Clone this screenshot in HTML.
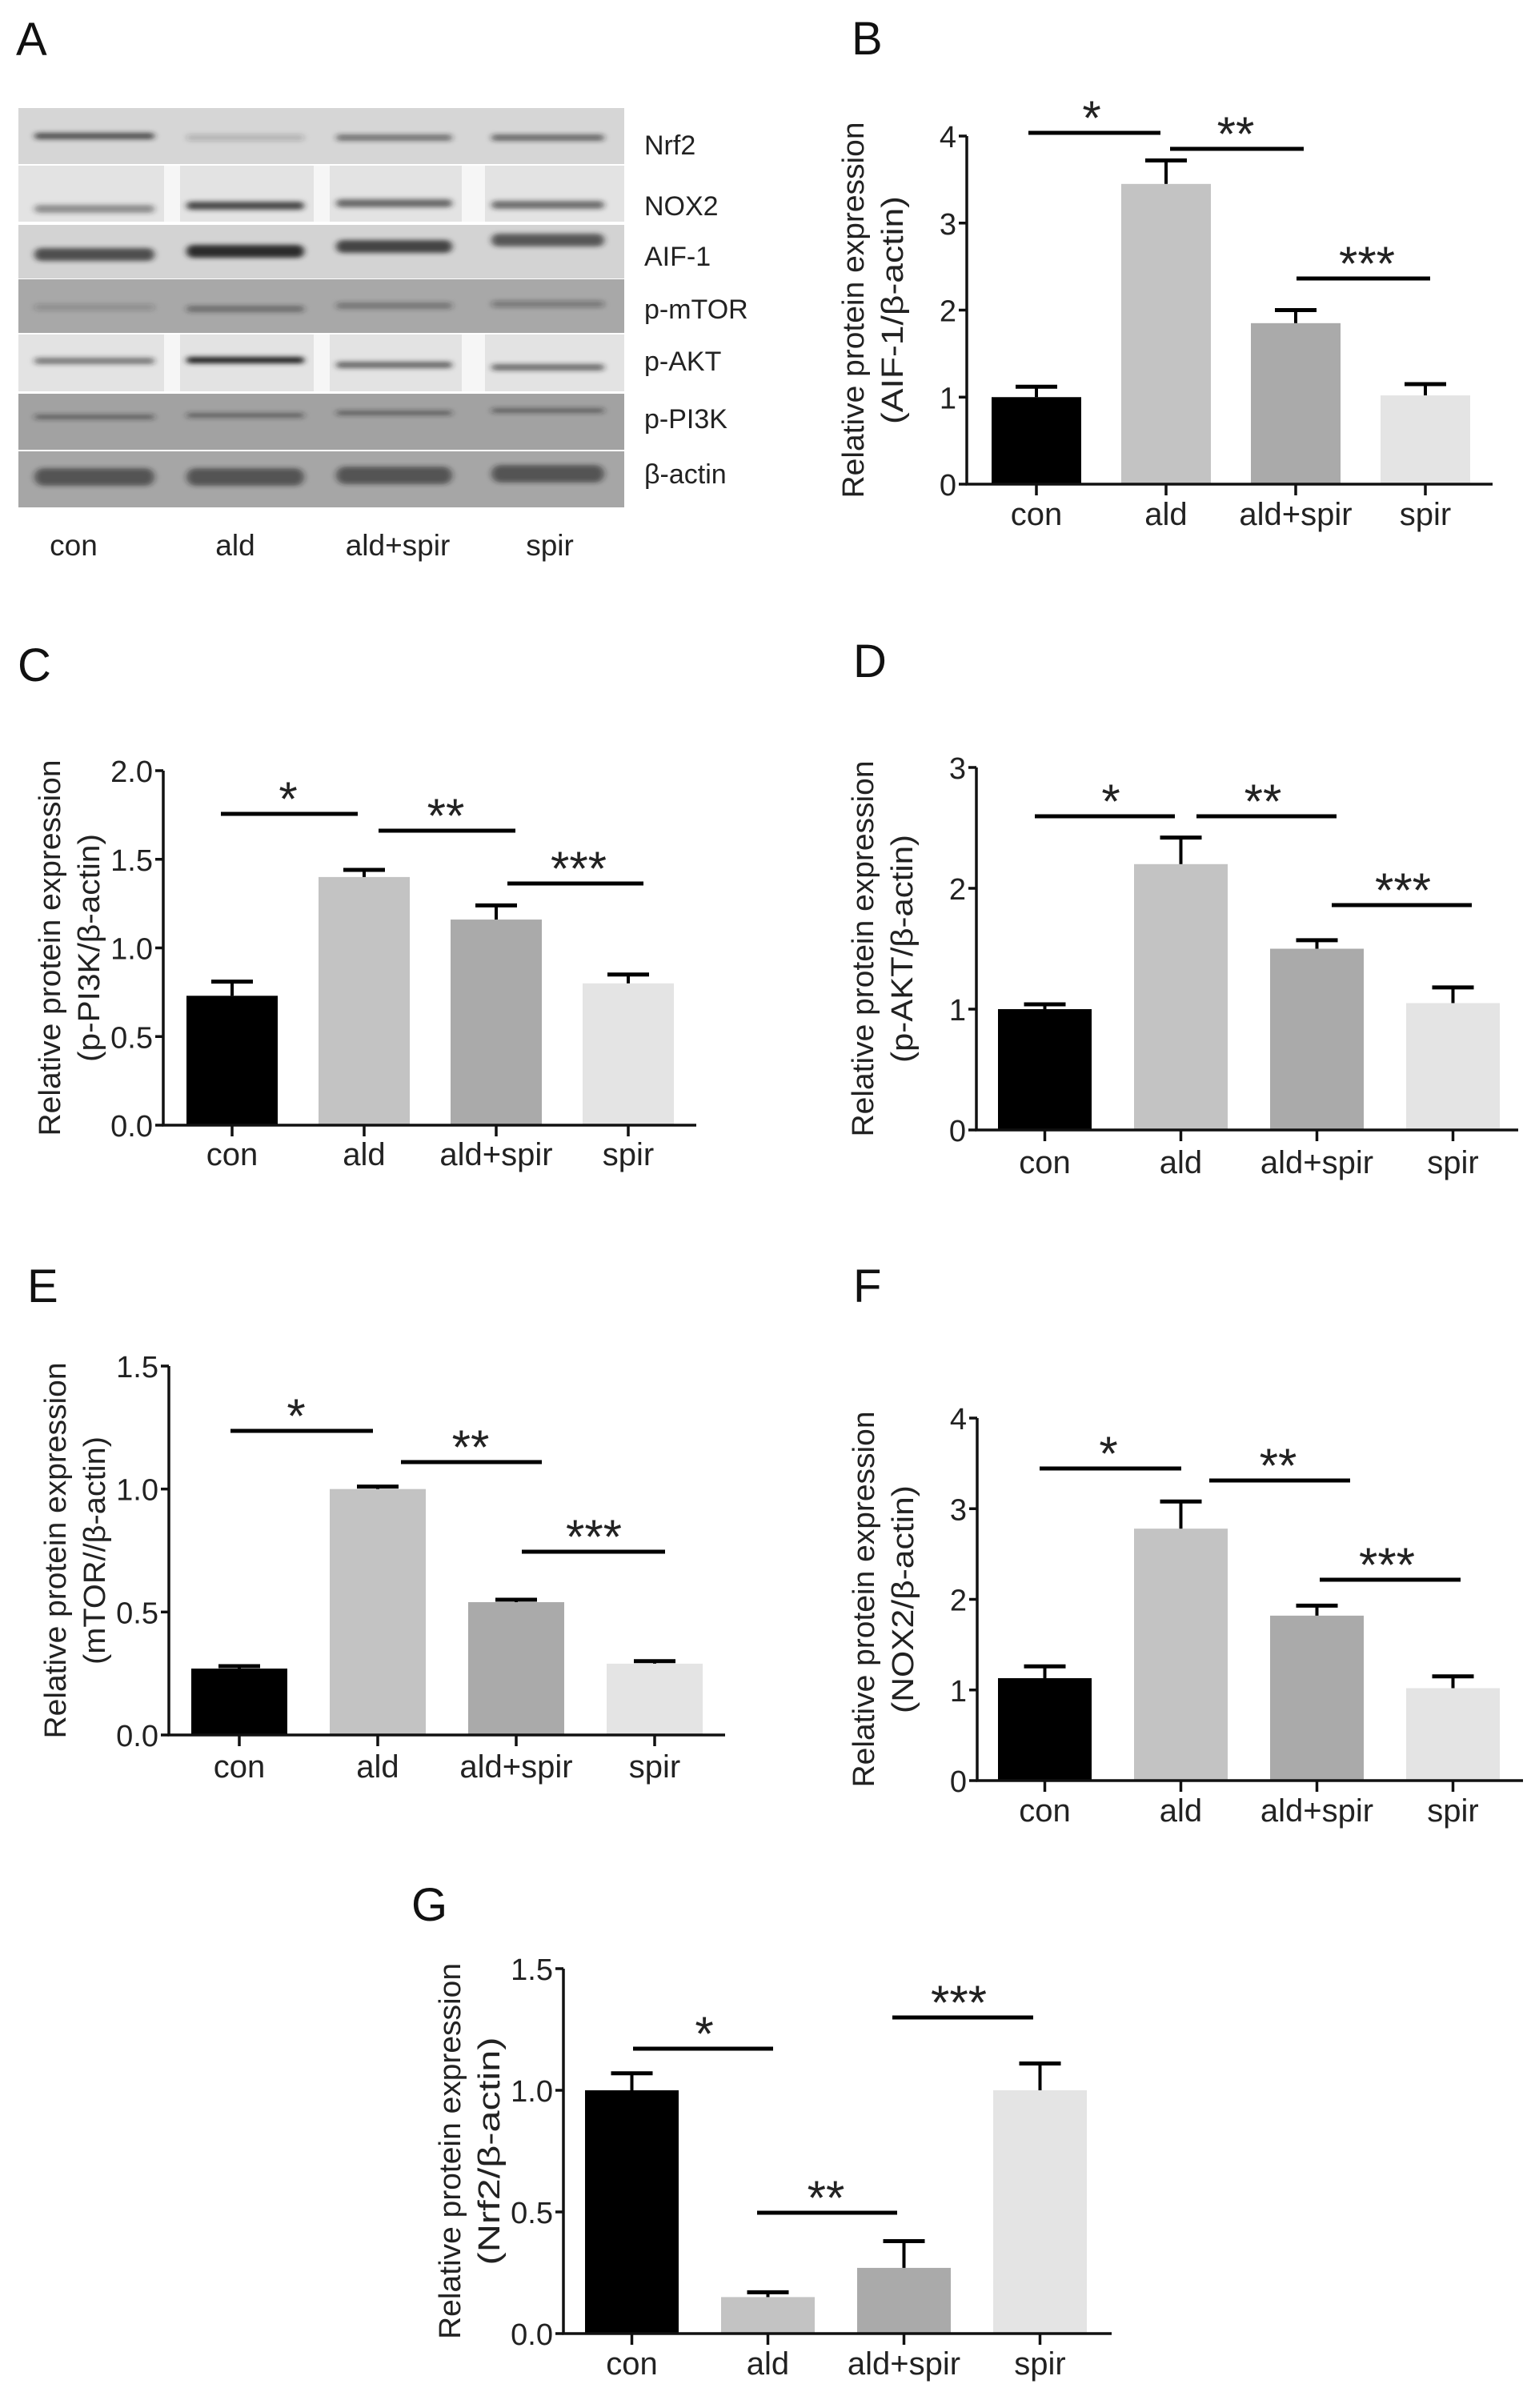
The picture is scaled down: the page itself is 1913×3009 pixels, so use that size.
<!DOCTYPE html>
<html><head><meta charset="utf-8"><style>
html,body{margin:0;padding:0;background:#fff;}
svg{display:block;font-family:"Liberation Sans",Arial,sans-serif;}
</style></head><body>
<svg id="fig" width="1913" height="3009" viewBox="0 0 1913 3009" xmlns="http://www.w3.org/2000/svg">
<defs>
<filter id="blur" x="-20%" y="-200%" width="140%" height="500%"><feGaussianBlur stdDeviation="4 3"/></filter>
</defs>
<g id="panelA"></g>
<g id="charts"></g>
</svg>
<script>
const NS='http://www.w3.org/2000/svg';
const categories=['con','ald','ald+spir','spir'];
const barColors=['#000000','#c3c3c3','#aaaaaa','#e4e4e4'];

const valuesB=[1.0,3.45,1.85,1.02];
const errorsB=[0.12,0.27,0.15,0.13];
const ticksB=[0,1,2,3,4];
const valuesC=[0.73,1.40,1.16,0.80];
const errorsC=[0.08,0.04,0.08,0.05];
const ticksC=[0,0.5,1,1.5,2];
const valuesD=[1.0,2.2,1.5,1.05];
const errorsD=[0.04,0.22,0.07,0.13];
const ticksD=[0,1,2,3];
const valuesE=[0.27,1.0,0.54,0.29];
const errorsE=[0.01,0.01,0.01,0.01];
const ticksE=[0,0.5,1,1.5];
const valuesF=[1.13,2.78,1.82,1.02];
const errorsF=[0.13,0.30,0.11,0.13];
const ticksF=[0,1,2,3,4];
const valuesG=[1.0,0.15,0.27,1.0];
const errorsG=[0.07,0.02,0.11,0.11];
const ticksG=[0,0.5,1,1.5];

function el(tag,attrs,parent,text){const e=document.createElementNS(NS,tag);for(const k in attrs)e.setAttribute(k,attrs[k]);if(text!==undefined)e.textContent=text;parent.appendChild(e);return e;}

const panels=[
 {id:'b',letter:'B',lx:1064,ly:47,ax:1208,axEnd:1865,yTop:170,y0:605,max:4,dec:0,ticks:ticksB,vals:valuesB,errs:errorsB,bar0:1239,bw:112,pitch:162,labelY:643,title2:'(AIF-1/β-actin)',
  sig:[[1285,1450,166,1364,'*'],[1462,1629,186,1544,'**'],[1620,1787,348,1708,'***']]},
 {id:'c',letter:'C',lx:22,ly:830,ax:204,axEnd:870,yTop:963,y0:1406,max:2,dec:1,ticks:ticksC,vals:valuesC,errs:errorsC,bar0:233,bw:114,pitch:165,labelY:1443,title2:'(p-PI3K/β-actin)',
  sig:[[276,447,1017,360,'*'],[473,644,1038,557,'**'],[634,804,1104,723,'***']]},
 {id:'d',letter:'D',lx:1066,ly:825,ax:1220,axEnd:1897,yTop:959,y0:1412,max:3,dec:0,ticks:ticksD,vals:valuesD,errs:errorsD,bar0:1247,bw:117,pitch:170,labelY:1453,title2:'(p-AKT/β-actin)',
  sig:[[1293,1468,1020,1388,'*'],[1495,1670,1020,1578,'**'],[1664,1839,1131,1753,'***']]},
 {id:'e',letter:'E',lx:34,ly:1606,ax:211,axEnd:906,yTop:1707,y0:2168,max:1.5,dec:1,ticks:ticksE,vals:valuesE,errs:errorsE,bar0:239,bw:120,pitch:173,labelY:2208,title2:'(mTOR//β-actin)',
  sig:[[288,466,1788,370,'*'],[501,677,1827,588,'**'],[652,831,1939,742,'***']]},
 {id:'f',letter:'F',lx:1066,ly:1606,ax:1221,axEnd:1903,yTop:1772,y0:2225,max:4,dec:0,ticks:ticksF,vals:valuesF,errs:errorsF,bar0:1247,bw:117,pitch:170,labelY:2263,title2:'(NOX2/β-actin)',
  sig:[[1299,1476,1835,1385,'*'],[1511,1687,1850,1597,'**'],[1649,1825,1974,1733,'***']]},
 {id:'g',letter:'G',lx:514,ly:2379,ax:704,axEnd:1389,yTop:2460,y0:2916,max:1.5,dec:1,ticks:ticksG,vals:valuesG,errs:errorsG,bar0:731,bw:117,pitch:170,labelY:2954,title2:'(Nrf2/β-actin)',
  sig:[[791,966,2560,880,'*'],[946,1121,2765,1032,'**'],[1115,1291,2521,1198,'***']]}
];

const charts=document.getElementById('charts');
panels.forEach(p=>{
  const g=el('g',{},charts);
  
  
  const yS=v=>p.y0-(v/p.max)*(p.y0-p.yTop);
  const cx=i=>p.bar0+i*p.pitch+p.bw/2;
  const L=el('text',{x:p.lx,y:p.ly+21,'font-size':58,fill:'#111'},g,p.letter);
  
  
  p.vals.forEach((v,i)=>{
    const top=yS(v);
    const r=el('rect',{x:p.bar0+i*p.pitch,y:top,width:p.bw,height:p.y0-top,fill:barColors[i]},g);
    
    
    const et=yS(v+p.errs[i]);
    const eg=el('g',{stroke:'#000','stroke-width':4},g);
    
    
    el('line',{x1:cx(i),x2:cx(i),y1:top,y2:et},eg);
    el('line',{x1:cx(i)-26,x2:cx(i)+26,y1:et,y2:et,'stroke-width':5},eg);
  });
  const ya=el('line',{x1:p.ax,x2:p.ax,y1:p.yTop,y2:p.y0+1.5,stroke:'#111','stroke-width':3.5},g);
  
  
  const xa=el('line',{x1:p.ax-1.5,x2:p.axEnd,y1:p.y0,y2:p.y0,stroke:'#111','stroke-width':3.5},g);
  
  
  p.ticks.forEach(t=>{
    const y=yS(t);
    el('line',{x1:p.ax-10,x2:p.ax,y1:y,y2:y,stroke:'#111','stroke-width':3.5},g);
    const tl=el('text',{x:p.ax-13,y:y+14,'font-size':38,'text-anchor':'end',fill:'#222'},g,t.toFixed(p.dec));
    
    
  });
  categories.forEach((c,i)=>{
    el('line',{x1:cx(i),x2:cx(i),y1:p.y0,y2:p.y0+14,stroke:'#111','stroke-width':3.5},g);
    const cl=el('text',{x:cx(i),y:p.labelY+13,'font-size':40,'text-anchor':'middle',fill:'#222'},g,c);
    
    
  });
  const mid=(p.yTop+p.y0)/2;
  const t1=el('text',{x:0,y:0,'font-size':38,'text-anchor':'middle','dominant-baseline':'central',fill:'#222',transform:`translate(${p.ax-141},${mid}) rotate(-90)`,textLength:470,lengthAdjust:'spacingAndGlyphs'},g,'Relative protein expression');
  
  
  const t2=el('text',{x:0,y:0,'font-size':38,'text-anchor':'middle','dominant-baseline':'central',fill:'#222',transform:`translate(${p.ax-92},${mid}) rotate(-90)`,textLength:285,lengthAdjust:'spacingAndGlyphs'},g,p.title2);
  
  
  p.sig.forEach(s=>{
    const sl=el('line',{x1:s[0],x2:s[1],y1:s[2],y2:s[2],stroke:'#000','stroke-width':5},g);
    
    
    const st=el('text',{x:s[3],y:s[2]+2,'font-size':60,'text-anchor':'middle',fill:'#222'},g,s[4]);
    
    
  });
});

const A=document.getElementById('panelA');
const la=el('text',{x:20,y:69,'font-size':58,fill:'#111'},A,'A');


const lanes=[[35,205],[225,392],[412,577],[606,767]];
const strips=[
 {name:'Nrf2',y:135,h:70,bg:'#d6d6d6',gaps:false,by:[170,172,172,172],bh:8,dk:[0.75,0.2,0.55,0.6],ly:181},
 {name:'NOX2',y:207,h:70,bg:'#e3e3e3',gaps:true,by:[261,257,254,256],bh:10,dk:[0.45,0.8,0.65,0.6],ly:257},
 {name:'AIF-1',y:281,h:67,bg:'#d3d3d3',gaps:false,by:[318,314,308,300],bh:16,dk:[0.75,0.95,0.8,0.7],ly:320},
 {name:'p-mTOR',y:349,h:67,bg:'#a8a8a8',gaps:false,by:[384,386,382,380],bh:8,dk:[0.2,0.45,0.4,0.35],ly:386},
 {name:'p-AKT',y:418,h:71,bg:'#e3e3e3',gaps:true,by:[451,450,456,459],bh:8,dk:[0.55,1,0.65,0.6],ly:451},
 {name:'p-PI3K',y:492,h:70,bg:'#a2a2a2',gaps:false,by:[521,519,516,513],bh:6,dk:[0.5,0.5,0.5,0.5],ly:523},
 {name:'β-actin',y:564,h:70,bg:'#a6a6a6',gaps:false,by:[596,596,594,592],bh:22,dk:[0.6,0.6,0.6,0.6],ly:592}
];
strips.forEach(s=>{
  const g=el('g',{},A);
  
  
  el('rect',{x:23,y:s.y,width:757,height:s.h,fill:s.bg},g);
  if(s.gaps){[[205,225],[392,412],[577,606]].forEach(gp=>el('rect',{x:gp[0],y:s.y,width:gp[1]-gp[0],height:s.h,fill:'#f6f6f6'},g));}
  lanes.forEach((ln,i)=>{
    el('rect',{x:ln[0]+8,y:s.by[i]-s.bh/2,width:ln[1]-ln[0]-20,height:s.bh,rx:s.bh/2,fill:'#222','fill-opacity':s.dk[i],filter:'url(#blur)'},g);
  });
  const t=el('text',{x:805,y:s.ly+12,'font-size':34,fill:'#222'},A,s.name);
  
  
});
const laneX=[92,294,497,687];
categories.forEach((c,i)=>{
  const t=el('text',{x:laneX[i],y:694,'font-size':37,'text-anchor':'middle',fill:'#222'},A,c);
  
  
});
</script>
</body></html>
